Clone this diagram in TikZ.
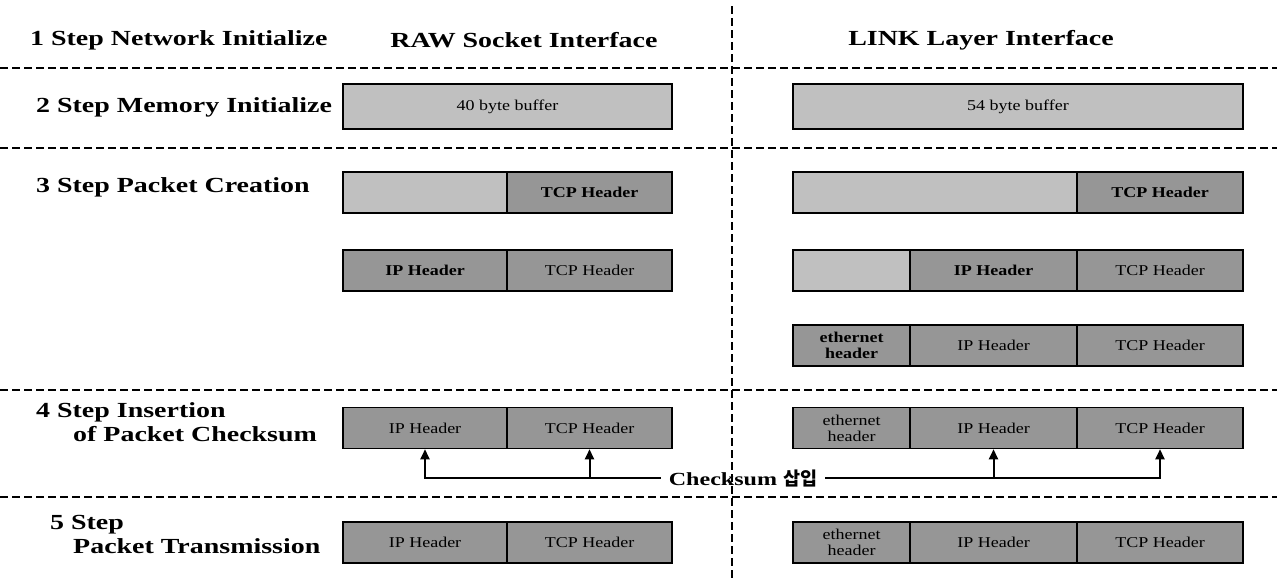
\documentclass[tikz,border=0pt]{standalone}
\usepackage{fontspec}
\setmainfont{Liberation Serif}[FakeStretch=1.3]
\newfontfamily\boxf{Liberation Serif}[FakeStretch=1.2]
\newfontfamily\cjk{Noto Sans CJK KR}
\usetikzlibrary{arrows.meta}
\definecolor{lightg}{HTML}{C0C0C0}
\definecolor{darkg}{HTML}{969696}
\begin{document}
\begin{tikzpicture}[x=1pt,y=-1pt,
 cell/.style={draw=black, line width=1.5pt, minimum height=41pt, inner sep=0pt,
   font=\boxf\fontsize{15}{16}\selectfont, align=center},
 lt/.style={cell, fill=lightg},
 dk/.style={cell, fill=darkg},
 heavy/.style={line width=2.5pt},
 sepline/.style={line width=2pt, dash pattern=on 8pt off 4pt},
 steplab/.style={font=\fontsize{21.5}{24}\selectfont\bfseries, anchor=west, inner sep=0pt, align=left},
 title/.style={font=\fontsize{21.5}{24}\selectfont\bfseries, inner sep=0pt},
 arr/.style={line width=2pt, -{Triangle[length=10pt,width=9pt]}}]
\useasboundingbox (0,0) rectangle (1277,579);

% separators
\draw[sepline] (0,68) -- (1277,68);
\draw[sepline] (0,148) -- (1277,148);
\draw[sepline] (0,390) -- (1277,390);
\draw[sepline] (0,497) -- (1277,497);
\draw[sepline] (732,6) -- (732,579);

% titles and step labels
\node[steplab] (s1) at (30,40) {1 Step Network Initialize};
\node[title] (traw) at (524,40) {RAW Socket Interface};
\node[title] (tlink) at (981,40) {LINK Layer Interface};
\node[steplab] (s2) at (36,107) {2 Step Memory Initialize};
\node[steplab] (s3) at (36,187) {3 Step Packet Creation};
\node[steplab] (s4) at (36,422) {4 Step Insertion\\\hspace*{37pt}of Packet Checksum};
\node[steplab] (s5) at (36,534) {\hspace*{14pt}5 Step\\\hspace*{37pt}Packet Transmission};

% step 2
\node[lt, minimum width=329pt, minimum height=45pt] (r2raw) at (507.5,106.5) {40 byte buffer};
\node[lt, minimum width=450pt, minimum height=45pt] (r2link) at (1018,106.5) {54 byte buffer};

% step 3a
\node[lt, minimum width=164pt] (r3araw) at (425,192.5) {};
\node[dk, minimum width=165pt] (r3artcp) at (589.5,192.5) {\bfseries TCP Header};
\node[lt, minimum width=284pt] (r3alink) at (935,192.5) {};
\node[dk, minimum width=166pt] (r3altcp) at (1160,192.5) {\bfseries TCP Header};

% step 3b
\node[dk, minimum width=164pt] (r3brip) at (425,270.5) {\bfseries IP Header};
\node[dk, minimum width=165pt] (r3brtcp) at (589.5,270.5) {TCP Header};
\node[lt, minimum width=117pt] (r3ble) at (851.5,270.5) {};
\node[dk, minimum width=167pt] (r3blip) at (993.5,270.5) {\bfseries IP Header};
\node[dk, minimum width=166pt] (r3bltcp) at (1160,270.5) {TCP Header};

% step 3c
\node[dk, minimum width=117pt] (r3cle) at (851.5,345.5) {\bfseries ethernet\\\bfseries header};
\node[dk, minimum width=167pt] (r3clip) at (993.5,345.5) {IP Header};
\node[dk, minimum width=166pt] (r3cltcp) at (1160,345.5) {TCP Header};

% step 4
\node[dk, minimum width=164pt] (r4rip) at (425,428) {IP Header};
\node[dk, minimum width=165pt] (r4rtcp) at (589.5,428) {TCP Header};
\node[dk, minimum width=117pt] (r4le) at (851.5,428) {ethernet\\header};
\node[dk, minimum width=167pt] (r4lip) at (993.5,428) {IP Header};
\node[dk, minimum width=166pt] (r4ltcp) at (1160,428) {TCP Header};

% step 5
\node[dk, heavy, minimum width=164pt] (r5rip) at (425,542.5) {IP Header};
\node[dk, heavy, minimum width=165pt] (r5rtcp) at (589.5,542.5) {TCP Header};
\node[dk, heavy, minimum width=117pt] (r5le) at (851.5,542.5) {ethernet\\header};
\node[dk, heavy, minimum width=167pt] (r5lip) at (993.5,542.5) {IP Header};
\node[dk, heavy, minimum width=166pt] (r5ltcp) at (1160,542.5) {TCP Header};

% checksum connectors
\node[font=\fontsize{18.5}{19}\selectfont\bfseries, inner sep=8pt] (ck) at (743,478) {Checksum {\cjk\bfseries 삽입}};
\draw[arr] (ck.west) -- (ck.west -| r4rip.south) -- (r4rip.south);
\draw[arr] (ck.west -| r4rtcp.south) -- (r4rtcp.south);
\draw[arr] (ck.east) -- (ck.east -| r4ltcp.south) -- (r4ltcp.south);
\draw[arr] (ck.east -| r4lip.south) -- (r4lip.south);
\end{tikzpicture}
\end{document}
